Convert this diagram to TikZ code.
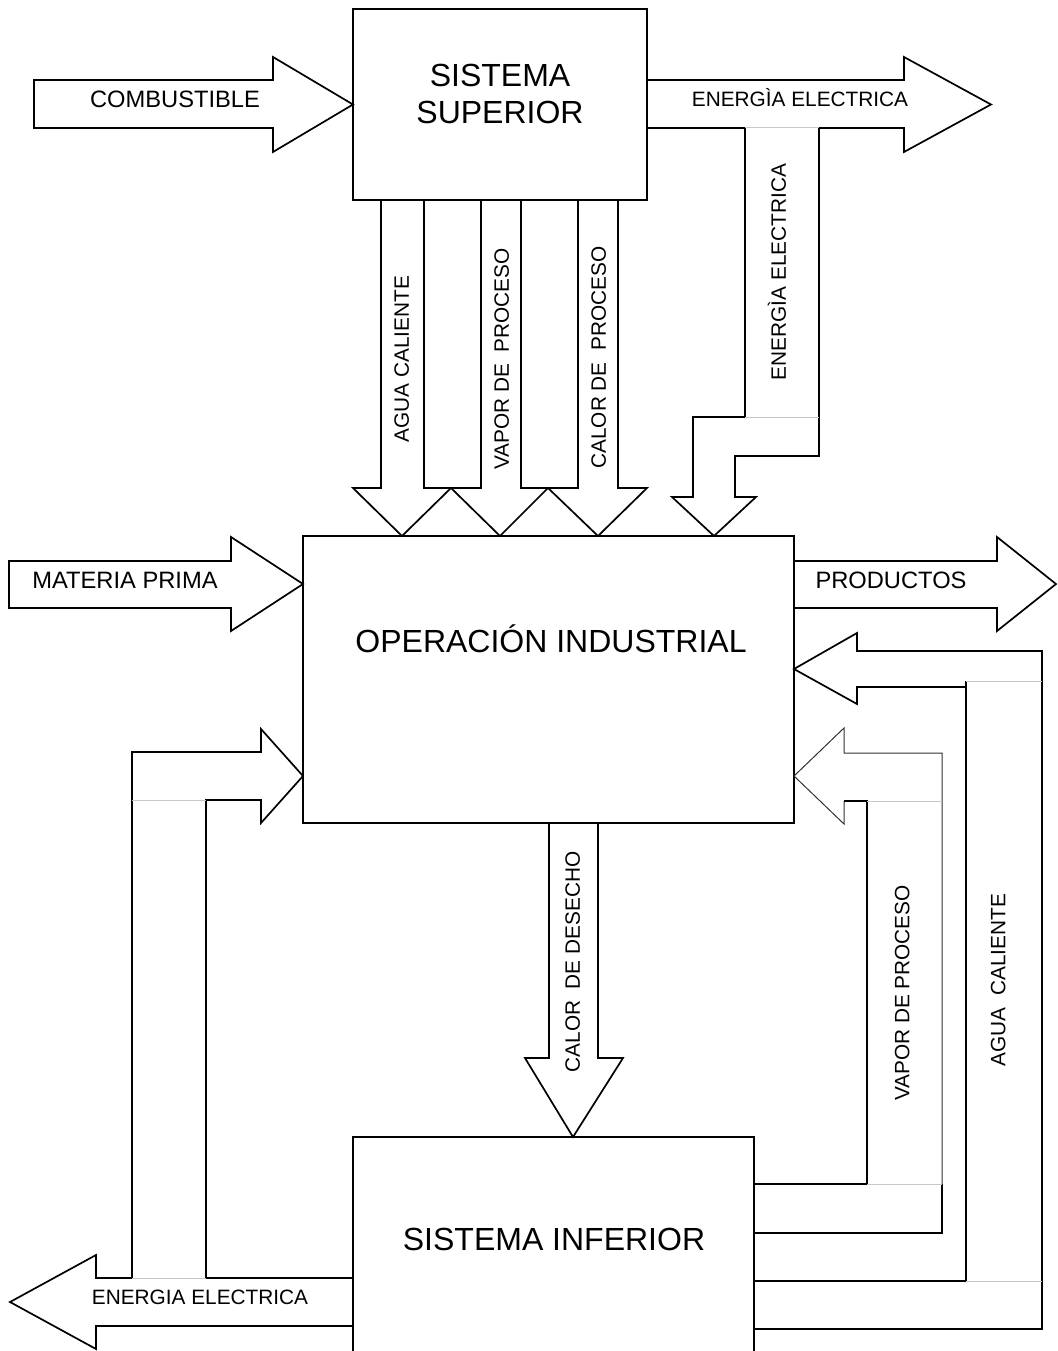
\documentclass[tikz,border=0pt]{standalone}
\usepackage{fontspec}
\setmainfont{Liberation Sans}
\begin{document}
\begin{tikzpicture}[x=1pt,y=-1pt,
  ln/.style={draw=black, line width=1.7pt, line join=miter},
  thin/.style={draw=black!80, line width=1pt, line join=miter},
  seam/.style={draw=black!22, line width=1pt},
  box/.style={draw=black, line width=1.7pt, inner sep=0pt, outer sep=0pt},
  ttl/.style={font=\fontsize{32}{37}\selectfont, inner sep=0pt, text height=22.9pt, text depth=0pt},
  big/.style={font=\fontsize{23.7}{28}\selectfont, inner sep=0pt, text height=17pt, text depth=0pt},
  lbl/.style={font=\fontsize{20.8}{25}\selectfont, inner sep=0pt, text height=14.9pt, text depth=0pt},
  vlbl/.style={lbl, rotate=90}]
\useasboundingbox (0,0) rectangle (1057,1351);
\clip (0,0) rectangle (1057,1351);

% the three blocks
\node[box, minimum width=294pt, minimum height=191pt] (sup) at (500,104.5) {};
\node[box, minimum width=491pt, minimum height=287pt] (op) at (548.5,679.5) {};
\node[box, minimum width=401pt, minimum height=243pt] (inf) at (553.5,1258.5) {};

\node[ttl] (supA) at (500,75) {SISTEMA};
\node[ttl] (supB) at (500,112) {SUPERIOR};
\node[ttl] (opT) at (551,641) {OPERACIÓN INDUSTRIAL};
\node[ttl] (infT) at (554,1239) {SISTEMA INFERIOR};

% fuel into the upper system
\draw[ln] (34,80) -- (273,80) -- (273,57) -- (sup.west) -- (273,152) -- (273,128) -- (34,128) -- cycle;
\node[big] (comb) at (175,99) {COMBUSTIBLE};

% electricity out of the upper system
\draw[ln] (647,80) -- (904,80) -- (904,57) -- (991,104.5) -- (904,152) -- (904,128) -- (819,128);
\draw[ln] (745,128) -- (647,128);
\node[lbl] (eeTop) at (800,99.5) {ENERGÌA ELECTRICA};

% electricity branch down to the industrial operation
\draw[ln] (745,128) -- (745,417) -- (693,417) -- (693,497) -- (672,497) -- (714,536) -- (756,497)
  -- (735,497) -- (735,456) -- (819,456) -- (819,128);
\draw[seam] (745,128) -- (819,128);
\draw[seam] (745,417) -- (819,417);
\node[vlbl] (eeVert) at (778.5,272) {ENERGÌA ELECTRICA};

% three flows from the upper system
\draw[ln] (381,200) -- (381,488) -- (353,488) -- (402,536) -- (451,488) -- (424,488) -- (424,200);
\draw[ln] (481,200) -- (481,488) -- (451,488) -- (500,536) -- (548,488) -- (521,488) -- (521,200);
\draw[ln] (578,200) -- (578,488) -- (548,488) -- (598,536) -- (647,488) -- (618,488) -- (618,200);
\node[vlbl] (agua1) at (401.5,359) {AGUA CALIENTE};
\node[vlbl] (vapor1) at (501.5,359) {VAPOR DE\ \ PROCESO};
\node[vlbl] (calor1) at (598.5,357.5) {CALOR DE\ \ PROCESO};

% raw material in, products out
\draw[ln] (9,561) -- (231,561) -- (231,537) -- (303,584) -- (231,631) -- (231,608) -- (9,608) -- cycle;
\node[big] (mp) at (125,580) {MATERIA PRIMA};
\draw[ln] (794,561) -- (997,561) -- (997,537) -- (1056,584) -- (997,631) -- (997,608) -- (794,608);
\node[big] (prod) at (891,580) {PRODUCTOS};

% waste heat down to the lower system
\draw[ln] (549,823) -- (549,1058) -- (525,1058) -- (573,1137) -- (623,1058) -- (598,1058) -- (598,823);
\node[vlbl] (desecho) at (572.5,962) {CALOR\ \ DE DESECHO};

% hot water back to the industrial operation
\draw[ln] (754,1329) -- (1042,1329) -- (1042,651) -- (857,651) -- (857,633) -- (794,669) -- (857,704)
  -- (857,687) -- (966,687);
\draw[ln] (966,681) -- (966,1281) -- (754,1281);
\draw[seam] (966,681) -- (1042,681);
\draw[seam] (966,1281) -- (1042,1281);
\node[vlbl] (agua2) at (998,980) {AGUA\ \ CALIENTE};

% process steam back to the industrial operation
\draw[thin] (942,1184) -- (942,753) -- (844,753) -- (844,728) -- (794,776) -- (844,824) -- (844,801);
\draw[ln] (844,801) -- (867,801) -- (867,1184) -- (754,1184);
\draw[ln] (754,1233) -- (942,1233) -- (942,1184);
\draw[seam] (867,801) -- (942,801);
\draw[seam] (867,1184) -- (942,1184);
\node[vlbl] (vapor2) at (902,993) {VAPOR DE PROCESO};

% electricity out of the lower system, with a branch up to the operation
\draw[ln] (353,1278) -- (206,1278) -- (206,800) -- (261,800) -- (261,823) -- (303,776) -- (261,729)
  -- (261,752) -- (132,752) -- (132,1278) -- (96,1278) -- (96,1255) -- (10,1302) -- (96,1349)
  -- (96,1326) -- (353,1326);
\draw[seam] (132,800) -- (206,800);
\draw[seam] (132,1278) -- (206,1278);
\node[lbl] (eeBot) at (200,1297) {ENERGIA ELECTRICA};
\end{tikzpicture}
\end{document}
